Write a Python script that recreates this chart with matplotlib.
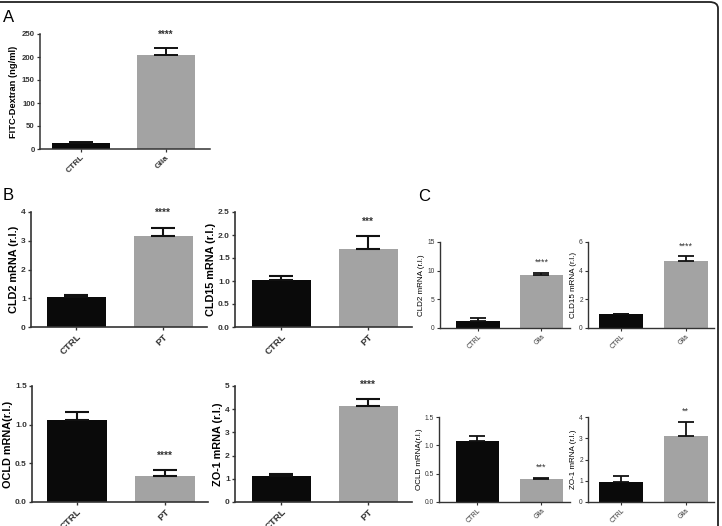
import matplotlib
matplotlib.use("Agg")
import matplotlib.pyplot as plt
from matplotlib.patches import FancyBboxPatch
from matplotlib.ticker import FormatStrFormatter

plt.rcParams['font.family'] = ['Liberation Sans', 'DejaVu Sans']

# ---------------- data ----------------
groups_A = ["CTRL", "Glia"]
fitc_mean = [14, 205]
fitc_err = [1.5, 14]
fitc_sig = "****"

groups_B = ["CTRL", "PT"]
b_cld2_mean = [1.05, 3.15]
b_cld2_err = [0.07, 0.30]
b_cld15_mean = [1.02, 1.70]
b_cld15_err = [0.08, 0.27]
b_ocld_mean = [1.06, 0.34]
b_ocld_err = [0.11, 0.07]
b_zo1_mean = [1.12, 4.12]
b_zo1_err = [0.08, 0.32]
b_sig = ["****", "***", "****", "****"]

groups_C = ["CTRL", "Glia"]
c_cld2_mean = [1.2, 9.2]
c_cld2_err = [0.5, 0.4]
c_cld15_mean = [0.95, 4.70]
c_cld15_err = [0.05, 0.30]
c_ocld_mean = [1.07, 0.41]
c_ocld_err = [0.10, 0.02]
c_zo1_mean = [0.95, 3.12]
c_zo1_err = [0.28, 0.65]
c_sig = ["****", "****", "***", "**"]

# ---------------- figure ----------------
W, H = 722, 526
fig = plt.figure(figsize=(W / 100, H / 100), dpi=100)

BLACK = "#0a0a0a"
GRAY = "#a3a3a3"


def add_ax(left, right, top, bottom):
    return fig.add_axes([left / W, 1 - bottom / H, (right - left) / W, (bottom - top) / H])


def panel(ax, cats, mean, err, sig, ylabel, yticks, ymax, xlim, fmt,
          bold, tsize, xsize, lsize, capsize, lw, elw, star_off, star_size, labelpad):
    weight = "bold" if bold else "normal"
    x = list(range(len(cats)))
    ax.bar(x, mean, width=0.68, color=[BLACK, GRAY], zorder=2)
    ax.errorbar(x, mean, yerr=[[0] * len(err), err], fmt="none", ecolor="#111111",
                elinewidth=elw, capsize=capsize, capthick=elw, zorder=3)
    ax.set_xlim(*xlim)
    ax.set_ylim(0, ymax)
    ax.set_yticks(yticks)
    if fmt:
        ax.yaxis.set_major_formatter(FormatStrFormatter(fmt))
    ax.set_xticks(x)
    ax.set_xticklabels(cats, rotation=45, ha="right", rotation_mode="anchor",
                       fontsize=xsize, fontweight=weight)
    for lab in ax.get_yticklabels():
        lab.set_fontsize(tsize)
        lab.set_fontweight(weight)
    ax.set_ylabel(ylabel, fontsize=lsize, fontweight=weight, labelpad=labelpad)
    for s in ["top", "right"]:
        ax.spines[s].set_visible(False)
    for s in ["left", "bottom"]:
        ax.spines[s].set_linewidth(lw)
        ax.spines[s].set_color("#333333")
    ax.tick_params(axis="both", direction="out", length=2.5, width=lw * 0.8,
                   pad=1.2, colors="#333333")
    ax.patch.set_alpha(0)
    ax.annotate(sig, xy=(1, mean[1] + err[1]), xytext=(0, star_off),
                textcoords="offset points", ha="center", va="center",
                fontsize=star_size, fontweight=weight, color="#333333")


# Panel A
axA = add_ax(40, 210, 34, 149)
panel(axA, groups_A, fitc_mean, fitc_err, fitc_sig, "FITC-Dextran (ng/ml)",
      [0, 50, 100, 150, 200, 250], 250, (-0.48, 1.52), None,
      True, 5.6, 6.0, 6.7, 8.5, 1.1, 1.4, 10, 7, 3)

# Panel B
bkw = dict(bold=True, tsize=6.0, xsize=6.8, lsize=7.8, capsize=8.8, lw=1.2, elw=1.5,
           star_off=10.5, star_size=7.2, labelpad=1.5)
ax = add_ax(31, 207, 212, 327)
panel(ax, groups_B, b_cld2_mean, b_cld2_err, b_sig[0], "CLD2 mRNA (r.l.)",
      [0, 1, 2, 3, 4], 4, (-0.52, 1.50), None, **bkw)
ax = add_ax(235, 412, 212, 327)
panel(ax, groups_B, b_cld15_mean, b_cld15_err, b_sig[1], "CLD15 mRNA (r.l.)",
      [0, 0.5, 1.0, 1.5, 2.0, 2.5], 2.5, (-0.53, 1.50), "%.1f", **bkw)
ax = add_ax(32, 208, 386, 502)
panel(ax, groups_B, b_ocld_mean, b_ocld_err, b_sig[2], "OCLD mRNA(r.l.)",
      [0, 0.5, 1.0, 1.5], 1.5, (-0.51, 1.49), "%.1f", **bkw)
ax = add_ax(235, 412, 386, 502)
panel(ax, groups_B, b_zo1_mean, b_zo1_err, b_sig[3], "ZO-1 mRNA (r.l.)",
      [0, 1, 2, 3, 4, 5], 5, (-0.53, 1.50), None, **bkw)

# Panel C
ckw = dict(bold=False, tsize=4.8, xsize=4.8, lsize=5.8, capsize=6.0, lw=1.0, elw=1.3,
           star_off=7.5, star_size=6.5, labelpad=1.5)
ax = add_ax(440, 570, 242, 328)
panel(ax, groups_C, c_cld2_mean, c_cld2_err, c_sig[0], "CLD2 mRNA (r.l.)",
      [0, 5, 10, 15], 15, (-0.60, 1.45), None, **ckw)
ax = add_ax(588, 714, 242, 328)
panel(ax, groups_C, c_cld15_mean, c_cld15_err, c_sig[1], "CLD15 mRNA (r.l.)",
      [0, 2, 4, 6], 6, (-0.51, 1.44), None, **ckw)
ax = add_ax(439, 570, 417, 502)
panel(ax, groups_C, c_ocld_mean, c_ocld_err, c_sig[2], "OCLD mRNA(r.l.)",
      [0, 0.5, 1.0, 1.5], 1.5, (-0.60, 1.45), "%.1f", **ckw)
ax = add_ax(588, 714, 417, 502)
panel(ax, groups_C, c_zo1_mean, c_zo1_err, c_sig[3], "ZO-1 mRNA (r.l.)",
      [0, 1, 2, 3, 4], 4, (-0.51, 1.44), None, **ckw)

# Panel letters
fig.text(3 / W, 1 - 17 / H, "A", fontsize=12, va="center", ha="left")
fig.text(3 / W, 1 - 195 / H, "B", fontsize=12, va="center", ha="left")
fig.text(418 / W, 1 - 196 / H, "C", fontsize=12, va="center", ha="left")

# Rounded outer frame (top and right edges visible)
frame = FancyBboxPatch((-20 / W, -20 / H), (718 + 20) / W, (H - 2 + 20) / H,
                       boxstyle="round,pad=0,rounding_size=0.012",
                       transform=fig.transFigure, fill=False,
                       edgecolor="#222222", linewidth=1.3, clip_on=False)
fig.patches.append(frame)

fig.savefig("out.png", dpi=100)
